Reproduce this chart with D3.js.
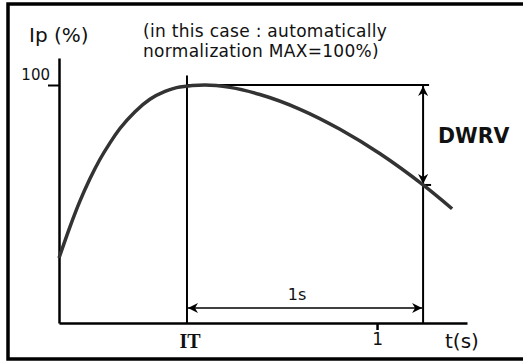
<!DOCTYPE html>
<html>
<head>
<meta charset="utf-8">
<script src="https://cdn.jsdelivr.net/npm/d3@7.9.0/dist/d3.min.js"></script>
<style>
  body { margin: 0; background: #fff; }
  svg { display: block; font-family: "DejaVu Sans", sans-serif; }
</style>
</head>
<body>
<svg id="chart" width="523" height="361"></svg>
<script>
// pulse current curve (t in s, Ip in %)
const curveTime = [-0.347, -0.301, -0.258, -0.216, -0.174, -0.131, -0.089, -0.025, 0.038, 0.102, 0.165, 0.271, 0.377, 0.504, 0.674, 0.843, 1.013, 1.195, 1.318];
const curvePct  = [27.3, 40.3, 51.3, 60.6, 68.7, 75.7, 81.7, 88.8, 94.0, 97.3, 99.2, 100, 99.0, 96.0, 89.8, 81.4, 71.1, 58.0, 48.0];

const timeTicks = [1];
const timeTickLabels = ['1'];
const pctTicks = [100];
const pctTickLabels = ['100'];

const itTime = 0.195;   // IT marker
const window1s = 1;     // 1s window after IT
const maxPct = 100;

const svg = d3.select('#chart');

// frame
svg.append('rect')
  .attr('x', 8).attr('y', 4)
  .attr('width', 540).attr('height', 355)
  .attr('fill', 'none').attr('stroke', '#000').attr('stroke-width', 3.5);

let x = d3.scaleLinear().domain([-0.347, 1.381]).range([59, 467]);
let y = d3.scaleLinear().domain([0, 100]).range([323, 85]);

// x axis
let xAxis = svg.append('g')
  .attr('transform', `translate(0,${y(0)})`)
  .call(d3.axisBottom(x).tickValues(timeTicks).tickFormat((d, i) => timeTickLabels[i]).tickSize(7).tickSizeOuter(0));
xAxis.select('.domain').attr('stroke-width', 2.5);
xAxis.selectAll('.tick line').attr('stroke-width', 2.5);
xAxis.selectAll('.tick text')
  .style('font-size', '17px').style('font-family', '"DejaVu Sans", sans-serif')
  .attr('fill', '#111').attr('y', 10);

// y axis (drawn up past 100)
let yAxis = svg.append('g')
  .attr('transform', `translate(${x(-0.347)},0)`)
  .call(d3.axisLeft(y.copy().domain([0, 111.3]).range([323, 58])).tickValues([]).tickSizeOuter(0));
yAxis.select('.domain').attr('stroke-width', 2.5);

let yTicks = svg.append('g')
  .attr('transform', `translate(${x(-0.347)},0)`)
  .call(d3.axisLeft(y).tickValues(pctTicks).tickFormat((d, i) => pctTickLabels[i]).tickSize(11));
yTicks.select('.domain').remove();
yTicks.selectAll('.tick line').attr('stroke-width', 2);
yTicks.selectAll('.tick text')
  .style('font-size', '15px').style('font-family', '"DejaVu Sans", sans-serif')
  .attr('x', -9).attr('dy', '-0.35em').attr('fill', '#111');

// arrow markers
let defs = svg.append('defs');
defs.append('marker')
  .attr('id', 'arr')
  .attr('viewBox', '0 0 10 10')
  .attr('refX', 10).attr('refY', 5)
  .attr('markerWidth', 10).attr('markerHeight', 10)
  .attr('markerUnits', 'userSpaceOnUse')
  .attr('orient', 'auto-start-reverse')
  .append('path').attr('d', 'M0,0 L10,5 L0,10 L3,5 Z').attr('fill', '#000');

let xIT = x(itTime);
let xEnd = x(itTime + window1s);

// IT vertical
svg.append('line')
  .attr('x1', xIT).attr('x2', xIT)
  .attr('y1', y(104)).attr('y2', y(0))
  .attr('stroke', '#000').attr('stroke-width', 2);

// 100% reference line
svg.append('line')
  .attr('x1', xIT).attr('x2', xEnd + 6)
  .attr('y1', y(maxPct)).attr('y2', y(maxPct))
  .attr('stroke', '#000').attr('stroke-width', 2);

// value at IT + 1s
let endPct = curvePct[curveTime.indexOf(1.195)];

// vertical line at IT + 1s
svg.append('line')
  .attr('x1', xEnd).attr('x2', xEnd)
  .attr('y1', y(endPct)).attr('y2', y(0))
  .attr('stroke', '#000').attr('stroke-width', 2);

// DWRV double arrow
svg.append('line')
  .attr('x1', xEnd).attr('x2', xEnd)
  .attr('y1', y(maxPct) + 1).attr('y2', y(endPct) - 1)
  .attr('stroke', '#000').attr('stroke-width', 2)
  .attr('marker-start', 'url(#arr)').attr('marker-end', 'url(#arr)');
svg.append('line')
  .attr('x1', xEnd - 1).attr('x2', xEnd + 8)
  .attr('y1', y(endPct)).attr('y2', y(endPct))
  .attr('stroke', '#000').attr('stroke-width', 2);

// 1s double arrow
let yArrow = 308;
svg.append('line')
  .attr('x1', xIT + 1).attr('x2', xEnd - 1)
  .attr('y1', yArrow).attr('y2', yArrow)
  .attr('stroke', '#000').attr('stroke-width', 1.6)
  .attr('marker-start', 'url(#arr)').attr('marker-end', 'url(#arr)');

// curve
let line = d3.line()
  .x((d, i) => x(curveTime[i]))
  .y((d) => y(d))
  .curve(d3.curveMonotoneX);
svg.append('path')
  .attr('d', line(curvePct))
  .attr('fill', 'none')
  .attr('stroke', '#333')
  .attr('stroke-width', 3.5);

// texts
svg.append('text').attr('x', 29).attr('y', 42).attr('font-size', 20).attr('fill', '#111').text('Ip (%)');
svg.append('text').attr('x', 143).attr('y', 37).attr('font-size', 17).attr('letter-spacing', 0.3).attr('fill', '#111').text('(in this case : automatically');
svg.append('text').attr('x', 143).attr('y', 57).attr('font-size', 17).attr('letter-spacing', 0.3).attr('fill', '#111').text('normalization MAX=100%)');
svg.append('text').attr('x', 438).attr('y', 143).attr('font-size', 20.5).attr('font-weight', 'bold').attr('fill', '#111').text('DWRV');
svg.append('text').attr('x', 297).attr('y', 300).attr('font-size', 16).attr('text-anchor', 'middle').attr('fill', '#111').text('1s');
svg.append('text').attr('x', xIT + 3).attr('y', 348).attr('font-size', 20).attr('font-weight', 'bold')
  .attr('font-family', '"Liberation Serif", serif').attr('text-anchor', 'middle').attr('fill', '#111').text('IT');
svg.append('text').attr('x', 445).attr('y', 348).attr('font-size', 20).attr('fill', '#111').text('t(s)');
</script>
</body>
</html>
